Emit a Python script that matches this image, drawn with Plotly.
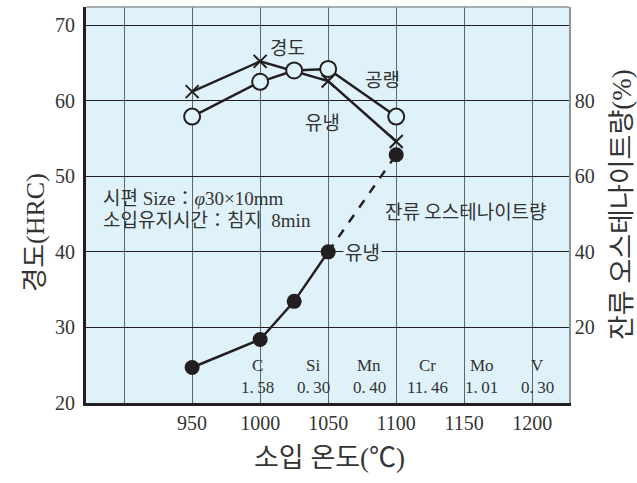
import plotly.graph_objects as go

# Data
temps = [950, 1000, 1025, 1050, 1100]
hard_air = [57.9, 62.5, 64.0, 64.2, 57.9]          # 경도 공랭 (open circles)
temps_oil = [950, 1000, 1050, 1100]
hard_oil = [61.2, 65.2, 62.6, 54.6]                 # 경도 유냉 (x markers)
temps_ra = [950, 1000, 1025, 1050]
ra_solid = [9.4, 16.8, 26.9, 40.0]                  # 잔류 오스테나이트량 (solid)
temps_ra_dash = [1050, 1100]
ra_dash = [40.0, 65.7]

elements = ["C", "Si", "Mn", "Cr", "Mo", "V"]
element_x = [1000, 1041, 1082, 1125, 1165, 1206]
contents = ["1.\u200958", "0.\u200930", "0.\u200940", "11.\u200946", "1.\u200901", "0.\u200930"]

xticks = [900, 950, 1000, 1050, 1100, 1150, 1200]
xticklabels = ["", "950", "1000", "1050", "1100", "1150", "1200"]
yticks = [20, 30, 40, 50, 60, 70]
y2ticks = [20, 40, 60, 80]

BG = "#dff2fa"
INK = "#231f20"
SERIF = "Liberation Serif, Noto Sans CJK KR"
KR = "Noto Sans CJK KR, Liberation Serif"

fig = go.Figure()

fig.add_trace(go.Scatter(x=temps_oil, y=hard_oil, mode="lines+markers",
                         line=dict(color=INK, width=2.5),
                         marker=dict(symbol="x-thin", size=13,
                                     line=dict(color=INK, width=2)),
                         showlegend=False))
fig.add_trace(go.Scatter(x=temps, y=hard_air, mode="lines+markers",
                         line=dict(color=INK, width=2.5),
                         marker=dict(symbol="circle", size=16, color=BG,
                                     line=dict(color=INK, width=2)),
                         showlegend=False))
fig.add_trace(go.Scatter(x=temps_ra_dash, y=ra_dash, mode="lines", yaxis="y2",
                         line=dict(color=INK, width=2.5, dash="dash"),
                         showlegend=False))
fig.add_trace(go.Scatter(x=temps_ra, y=ra_solid, mode="lines+markers", yaxis="y2",
                         line=dict(color=INK, width=2.5),
                         marker=dict(symbol="circle", size=15, color=INK),
                         showlegend=False))
fig.add_trace(go.Scatter(x=[1100], y=[ra_dash[-1]], mode="markers", yaxis="y2",
                         marker=dict(symbol="circle", size=15, color=INK),
                         showlegend=False))

fig.update_layout(
    width=637, height=483,
    margin=dict(l=86, r=68, t=7, b=80),
    paper_bgcolor="white",
    plot_bgcolor=BG,
    xaxis=dict(range=[872, 1227], tickvals=xticks, ticktext=xticklabels,
               showgrid=True, gridcolor="#59686e", gridwidth=1,
               showline=True, linecolor=INK, linewidth=3, mirror=False,
               ticks="", zeroline=False,
               tickfont=dict(family=SERIF, size=20, color="#333333")),
    yaxis=dict(range=[20, 72.4], tickvals=yticks,
               showgrid=True, gridcolor=INK, gridwidth=1,
               showline=True, linecolor=INK, linewidth=3, mirror=False,
               ticks="", zeroline=False, ticklabelstandoff=4,
               tickfont=dict(family=SERIF, size=20, color="#333333")),
    yaxis2=dict(range=[0, 104.8], tickvals=y2ticks, overlaying="y", side="right",
                showgrid=False, showline=True, linecolor="#8a9599", linewidth=1.5,
                ticks="", zeroline=False,
                tickfont=dict(family=SERIF, size=20, color="#333333")),
)

# top frame line
fig.add_shape(type="line", xref="paper", yref="paper", x0=0, x1=1, y0=1, y1=1,
              line=dict(color="#8a9599", width=1.5))

def ann(text, x, y, size=19, family=KR, **kw):
    fig.add_annotation(text=text, x=x, y=y, xref="x", yref="y", showarrow=False,
                       font=dict(family=family, size=size, color="#333333"), **kw)

ann("경도", 1020, 67.2)
ann("공랭", 1090, 62.9)
ann("유냉", 1045.5, 57.3)
ann("시편 Size：<i>φ</i>30×10mm", 883, 47.1, size=19, family=SERIF, xanchor="left")
ann("소입유지시간：침지  8min", 883, 44.2, size=19, family=SERIF, xanchor="left")
ann("잔류 오스테나이트량", 1151, 45.5)
ann("유냉", 1075, 40.0, bgcolor=BG, borderpad=1)

for el, xe, c in zip(elements, element_x, contents):
    ann(el, xe - 2, 25.0, size=17, family=SERIF)
    ann(c, xe - 2, 22.1, size=17, family=SERIF)

fig.add_annotation(text="경도(HRC)", xref="paper", yref="paper", x=-0.138, y=0.432,
                   textangle=-90, showarrow=False,
                   font=dict(family=SERIF, size=26, color="#333333"))
fig.add_annotation(text="잔류 오스테나이트량(%)", xref="paper", yref="paper", x=1.145, y=0.50,
                   textangle=-90, showarrow=False,
                   font=dict(family=SERIF, size=27, color="#333333"))
fig.add_annotation(text="소입 온도(℃)", xref="paper", yref="paper", x=0.505, y=-0.183,
                   showarrow=False,
                   font=dict(family=SERIF, size=27, color="#333333"))

fig.write_html("out.html")
